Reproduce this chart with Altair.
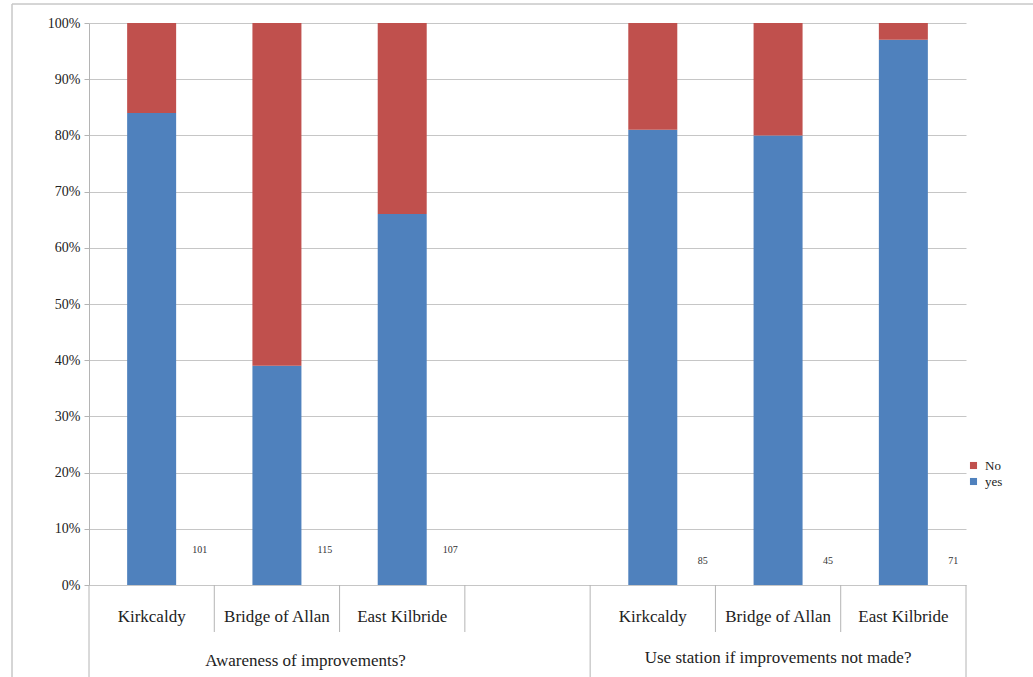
import altair as alt
import pandas as pd

# ---- data ----
groups = ["Awareness of improvements?", "Use station if improvements not made?"]
stations = ["Kirkcaldy", "Bridge of Allan", "East Kilbride"]
yes_awareness = [84, 39, 66]
yes_use = [81, 80, 97]
n_awareness = [101, 115, 107]
n_use = [85, 45, 71]
series = ["No", "yes"]
colors = ["#C0504D", "#4F81BD"]

# slot layout: group 1 has its three stations plus one blank slot, group 2 three stations
group_slots = [4, 3]
n_slots = sum(group_slots)

rows = []
cats = []
yes_lists = [yes_awareness, yes_use]
n_lists = [n_awareness, n_use]
start = 0
group_spans = []
for gi, g in enumerate(groups):
    for si, st in enumerate(stations):
        slot = start + si
        yv = yes_lists[gi][si]
        rows.append({"group": g, "gi": gi, "station": st, "pos": slot + 0.5,
                     "series": "yes", "value": yv, "ord": 0})
        rows.append({"group": g, "gi": gi, "station": st, "pos": slot + 0.5,
                     "series": "No", "value": 100 - yv, "ord": 1})
        cats.append({"gi": gi, "station": st, "pos": slot + 0.5, "n": n_lists[gi][si]})
    group_spans.append((start, start + group_slots[gi]))
    start += group_slots[gi]

bars_df = pd.DataFrame(rows)
cats_df = pd.DataFrame(cats)

long_b = sorted({s for span in group_spans for s in span})
short_b = [b for b in range(n_slots + 1) if b not in long_b]
long_df = pd.DataFrame({"b": long_b})
short_df = pd.DataFrame({"b": short_b})
glab_df = pd.DataFrame({"group": groups, "gi": [0, 1],
                        "center": [(a + b) / 2 for a, b in group_spans]})

W, H = 877, 562
FONT = "Liberation Serif"
GRAY = "#b4b4b4"

xs = alt.Scale(domain=[0, n_slots], nice=False, zero=False, padding=0)
ys = alt.Scale(domain=[0, 100], nice=False)

bars = alt.Chart(bars_df).mark_bar(size=49, orient="vertical").encode(
    x=alt.X("pos:Q", scale=xs, axis=None),
    y=alt.Y("value:Q", stack="zero", scale=ys,
            axis=alt.Axis(values=list(range(0, 101, 10)), labelExpr="datum.value + '%'",
                          grid=True, gridColor="#c6c6c6", domainColor=GRAY,
                          tickColor=GRAY, tickSize=5, labelFont=FONT, labelFontSize=14,
                          labelColor="#222222", labelPadding=4, title=None)),
    color=alt.Color("series:N", scale=alt.Scale(domain=series, range=colors),
                    legend=alt.Legend(orient="none", legendX=878, legendY=436, title=None,
                                      symbolType="square", symbolSize=50,
                                      symbolStrokeWidth=0, labelFont=FONT,
                                      labelFontSize=13, labelColor="#222222",
                                      rowPadding=2, labelOffset=5)),
    order=alt.Order("ord:Q"),
)

short_rules = alt.Chart(short_df).mark_rule(color=GRAY).encode(
    x=alt.X("b:Q", scale=xs, axis=None), y=alt.value(H), y2=alt.value(H + 47))
long_rules = alt.Chart(long_df).mark_rule(color=GRAY).encode(
    x=alt.X("b:Q", scale=xs, axis=None), y=alt.value(H), y2=alt.value(H + 92))

cat_text = alt.Chart(cats_df).mark_text(font=FONT, fontSize=17, color="#222222",
                                         baseline="middle").encode(
    x=alt.X("pos:Q", scale=xs, axis=None), y=alt.value(H + 32), text="station:N")

n1 = alt.Chart(cats_df).transform_filter("datum.gi == 0").mark_text(
    font=FONT, fontSize=10, color="#333333", dx=48, baseline="middle").encode(
    x=alt.X("pos:Q", scale=xs, axis=None), y=alt.value(H - 35), text="n:Q")
n2 = alt.Chart(cats_df).transform_filter("datum.gi == 1").mark_text(
    font=FONT, fontSize=10, color="#333333", dx=50, baseline="middle").encode(
    x=alt.X("pos:Q", scale=xs, axis=None), y=alt.value(H - 24), text="n:Q")

g1 = alt.Chart(glab_df).transform_filter("datum.gi == 0").mark_text(
    font=FONT, fontSize=17, color="#222222", dx=-34, baseline="middle").encode(
    x=alt.X("center:Q", scale=xs, axis=None), y=alt.value(H + 76), text="group:N")
g2 = alt.Chart(glab_df).transform_filter("datum.gi == 1").mark_text(
    font=FONT, fontSize=17, color="#222222", baseline="middle").encode(
    x=alt.X("center:Q", scale=xs, axis=None), y=alt.value(H + 73), text="group:N")

border_top = alt.Chart(glab_df).mark_rule(color="#c8c8c8").encode(
    x=alt.value(-77), x2=alt.value(W + 67), y=alt.value(-19))
border_left = alt.Chart(glab_df).mark_rule(color="#c8c8c8").encode(
    x=alt.value(-77), y=alt.value(-19), y2=alt.value(H + 92))

chart = alt.layer(
    border_top, border_left, bars, short_rules, long_rules, cat_text, n1, n2, g1, g2
).properties(
    width=W, height=H,
    padding={"left": 89, "top": 23, "right": 67, "bottom": 92},
    autosize=alt.AutoSizeParams(type="none"),
    background="white",
).configure_view(stroke=None)

chart.save("out.html", embed_options={"renderer": "svg", "actions": False})
